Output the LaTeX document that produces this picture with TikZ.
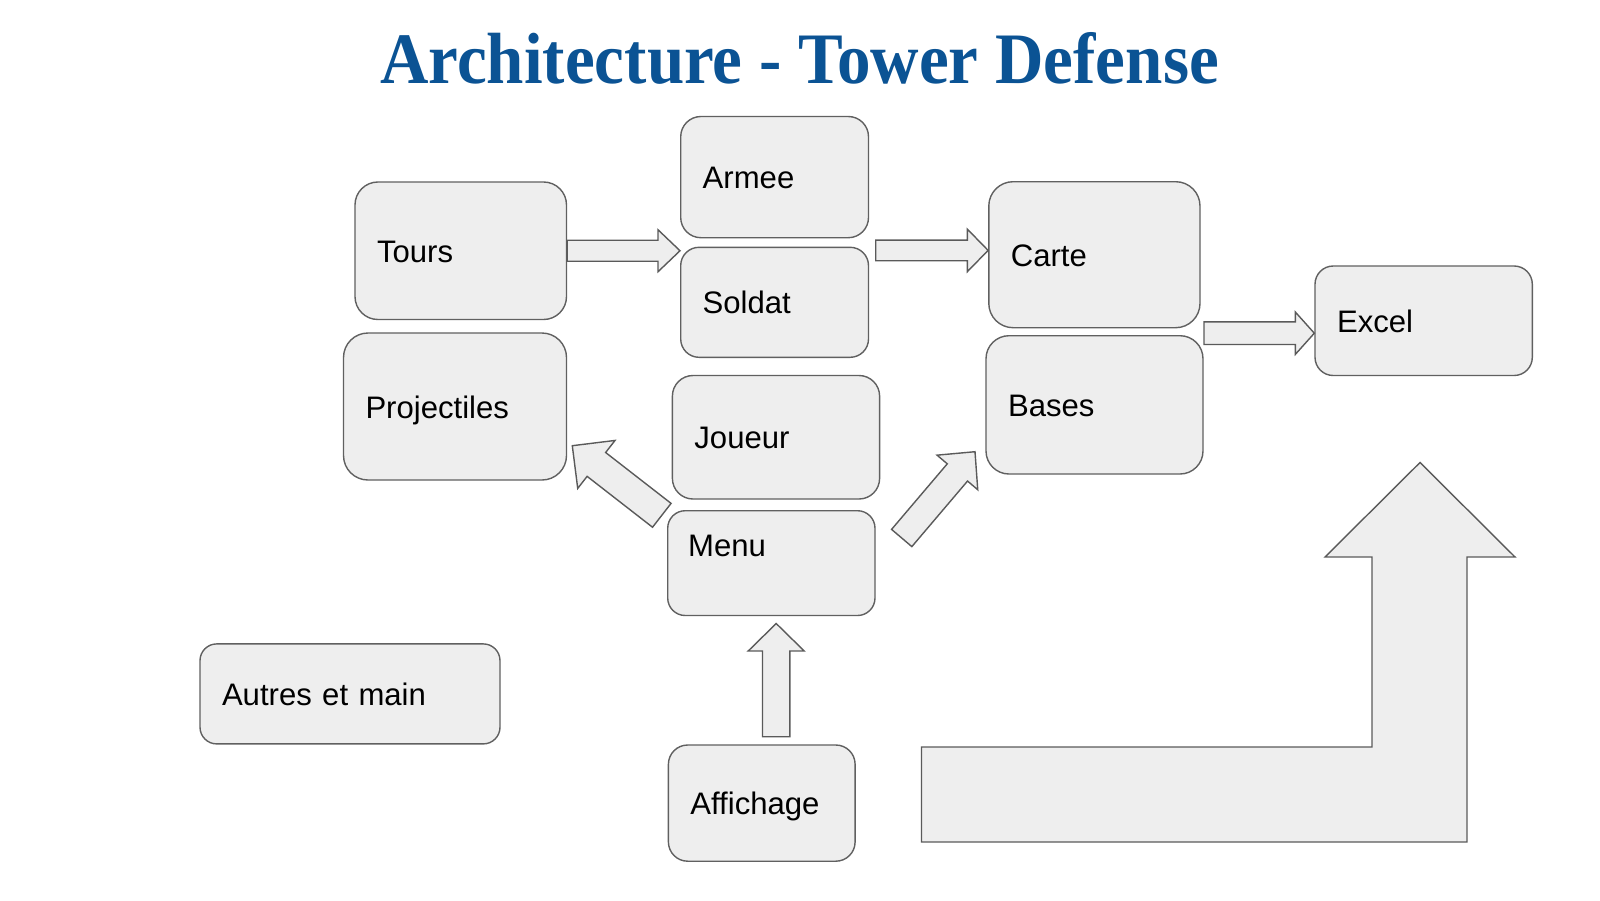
\documentclass[tikz,border=0pt]{standalone}
\usepackage{graphicx}
\usepackage{fontspec}
\setmainfont{Liberation Sans}
\newfontfamily\titlefont{Liberation Serif}
\usetikzlibrary{calc}
\definecolor{boxfill}{HTML}{EEEEEE}
\definecolor{boxline}{HTML}{606060}
\definecolor{arrline}{HTML}{5A5A5A}
\definecolor{titleblue}{HTML}{0B5394}
% block arrow: #1 tail, #2 tip, #3 shaft half-width, #4 head half-width, #5 head length
\newcommand\blkarrow[5]{%
  \coordinate (hb) at ($(#2)!#5!(#1)$);
  \draw[barrow] ($(#1)!#3!90:(#2)$) -- ($(hb)!#3!90:(#2)$) -- ($(hb)!#4!90:(#2)$)
    -- (#2) -- ($(hb)!#4!-90:(#2)$) -- ($(hb)!#3!-90:(#2)$) -- ($(#1)!#3!-90:(#2)$) -- cycle;
}
\tikzset{
  box/.style={draw=boxline, fill=boxfill, line width=1.4pt, inner xsep=22pt, inner ysep=0pt,
    align=left, text height=23pt, text depth=0pt,
    font=\fontsize{31.1}{37}\selectfont},
  lbl/.style={inner sep=0pt, text height=22pt, text depth=0pt, font=\fontsize{31.1}{37}\selectfont},
  barrow/.style={draw=arrline, fill=boxfill, line width=1.4pt, line join=miter},
}
\begin{document}
\begin{tikzpicture}[x=1pt,y=-1pt]
\useasboundingbox (0,0) rectangle (1600,900);

\node[anchor=base, text=titleblue, inner sep=0pt] (title) at (799.5,83.7)
  {\scalebox{0.925}[1]{\titlefont\bfseries\fontsize{72.5}{80}\selectfont Architecture - Tower Defense}};

\node[box, rounded corners=22.9pt, minimum height=137.5pt, text width=167.5pt] (tours) at (460.75,250.75) {Tours};
\node[box, rounded corners=24.5pt, minimum height=147pt, text width=179pt] (proj) at (455,406.5) {Projectiles};
\node[box, rounded corners=20.2pt, minimum height=121.2pt, text width=143.8pt] (armee) at (774.6,177.1) {Armee};
\node[box, rounded corners=18.3pt, minimum height=110pt, text width=143.8pt] (soldat) at (774.6,302.3) {Soldat};
\node[box, rounded corners=20.6pt, minimum height=123.5pt, text width=163.2pt] (joueur) at (776,437.25) {Joueur};
\node[box, rounded corners=17.5pt, minimum height=104.8pt, minimum width=207.3pt, inner xsep=0pt] (menu) at (771.35,563.1) {};
\node[lbl, anchor=west] (menulbl) at (688,545.5) {Menu};
\node[box, rounded corners=19.3pt, minimum height=116.2pt, text width=142.7pt] (affichage) at (761.75,803.1) {Affichage};
\node[box, rounded corners=16.7pt, minimum height=100pt, text width=256pt] (autres) at (350,693.9) {Autres et main};
\node[box, rounded corners=24.3pt, minimum height=146pt, text width=167.2pt] (carte) at (1094.4,254.7) {Carte};
\node[box, rounded corners=23pt, minimum height=138.3pt, text width=173pt] (bases) at (1094.5,404.85) {Bases};
\node[box, rounded corners=18.2pt, minimum height=109.5pt, text width=173.3pt] (excel) at (1423.65,320.75) {Excel};

% Tours -> Armee/Soldat
\coordinate (a1e) at (armee.south west |- tours.east);
\blkarrow{tours.east}{a1e}{10.5pt}{21pt}{22pt}
% Armee/Soldat -> Carte
\coordinate (a2s) at (875.7,250.4);
\coordinate (a2e) at (carte.west |- a2s);
\blkarrow{a2s}{a2e}{10.3pt}{21.2pt}{20.7pt}
% Carte/Bases -> Excel
\coordinate (a3s) at (1204,333.2);
\coordinate (a3e) at (excel.west |- a3s);
\blkarrow{a3s}{a3e}{11.3pt}{21.2pt}{19pt}
% Menu -> Projectiles
\coordinate (a4s) at (661.8,515.3);
\coordinate (a4e) at (572.3,445.7);
\blkarrow{a4s}{a4e}{15.1pt}{30.4pt}{30.5pt}
% Menu -> Bases
\coordinate (a5s) at (901.7,538);
\coordinate (a5e) at (975,451.7);
\blkarrow{a5s}{a5e}{13.3pt}{26.7pt}{27.2pt}
% Affichage -> Menu
\coordinate (a6s) at (776.2,736.7);
\coordinate (a6e) at (776.2,623.5);
\blkarrow{a6s}{a6e}{13.7pt}{28pt}{27.5pt}

% large bent arrow
\draw[barrow] (921.5,747) -- (1372,747) -- (1372,557) -- (1325,557) -- (1420,462.5)
  -- (1515,557) -- (1467,557) -- (1467,842) -- (921.5,842) -- cycle;
\end{tikzpicture}
\end{document}
